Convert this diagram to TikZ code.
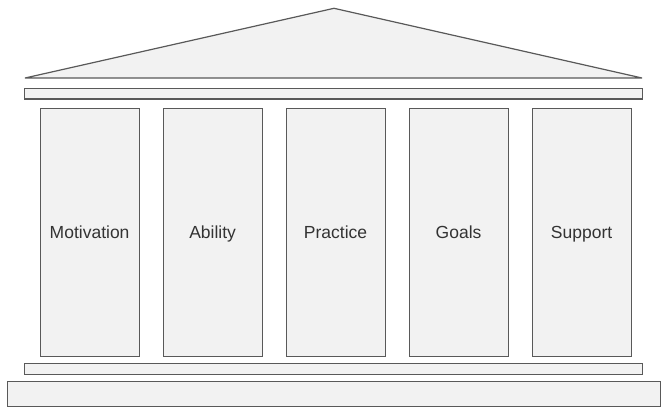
\documentclass[tikz,border=0pt]{standalone}
\usepackage{fontspec}
\setmainfont{Liberation Sans}
\definecolor{partfill}{HTML}{F2F2F2}
\definecolor{partline}{HTML}{595959}
\definecolor{labeltext}{HTML}{333333}
\begin{document}
\begin{tikzpicture}[x=1pt,y=-1pt,
  part/.style={draw=partline,fill=partfill,line width=1.2pt},
  pillar/.style={part,rectangle,minimum width=99pt,minimum height=248.5pt,inner sep=0pt,
    text height=16pt,text depth=2.9pt,
    anchor=north west,font=\fontsize{17.5}{21}\selectfont,text=labeltext}]
  \useasboundingbox (0,0) rectangle (669,415);
  % roof
  \draw[part,line join=bevel] (25,78) -- (334,8.3) -- (642,78) -- cycle;
  % top beam
  \draw[part] (24.5,88.5) rectangle (642.3,99);
  % pillars
  \node[pillar] (p1) at (39.5,107.5) {Motivation};
  \node[pillar] (p2) at (162.5,107.5) {Ability};
  \node[pillar] (p3) at (285.5,107.5) {Practice};
  \node[pillar] (p4) at (408.5,107.5) {Goals};
  \node[pillar] (p5) at (531.5,107.5) {Support};
  % bottom beam
  \draw[part] (24.5,363.3) rectangle (642.3,374.3);
  % base
  \draw[part] (7.5,381.3) rectangle (660.3,406.3);
\end{tikzpicture}
\end{document}
